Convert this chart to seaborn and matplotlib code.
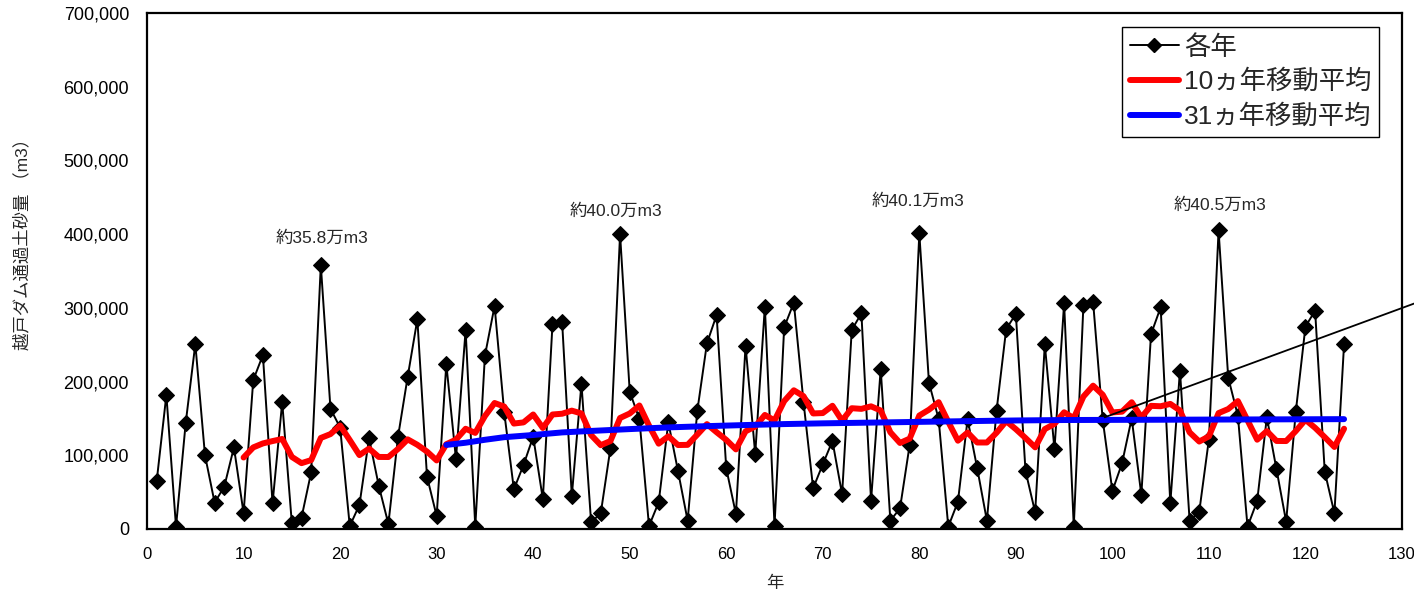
import numpy as np
import pandas as pd
import seaborn as sns
import matplotlib.pyplot as plt
from matplotlib.ticker import FuncFormatter
from matplotlib.lines import Line2D

# 各年の越戸ダム通過土砂量 (m3), 年 1..124
years = list(range(1, 125))
volume = [
    65100, 181800, 3000, 143400, 251000, 100000, 35700, 57400, 110800, 21300,
    202000, 236000, 34800, 171900, 7700, 15400, 76900, 358000, 163200, 137500,
    4000, 32600, 123000, 58800, 6800, 125200, 206600, 284400, 71000, 17600,
    223800, 95000, 270000, 3000, 235100, 302500, 158300, 53800, 86800, 125200,
    40700, 277700, 280400, 44800, 197100, 9000, 21300, 109400, 400000, 186300,
    149200, 4000, 36200, 144700, 78700, 11300, 160100, 251900, 290300, 82300,
    20300, 248700, 101700, 301600, 4000, 273600, 307000, 172700, 55200, 87700,
    119400, 47100, 270000, 292600, 38400, 217100, 11300, 28000, 114000, 401000,
    198500, 149200, 3100, 37000, 148800, 82300, 11300, 160500, 271300, 291700,
    78700, 22600, 250500, 108100, 306100, 3100, 303900, 308400, 147900, 51600,
    89100, 150100, 46100, 264100, 300700, 34800, 214800, 11300, 23500, 121700,
    405000, 205300, 153700, 3100, 38000, 151500, 81000, 9900, 159200, 274500,
    296200, 77800, 21300, 250500,
]

# 31ヵ年移動平均
ma31_years = [31, 33, 35, 37, 40, 43, 46, 50, 54, 58, 62, 66, 70, 75, 80,
              85, 90, 95, 100, 110, 124]
ma31_vals = [114000, 117000, 121000, 124500, 127500, 131000, 133000, 135500,
             137800, 139500, 141000, 142300, 143300, 144300, 145300, 146300,
             147200, 147800, 148000, 148400, 149000]

labels = ['各年', '10ヵ年移動平均', '31ヵ年移動平均']
notes = ['約35.8万m3', '約40.0万m3', '約40.1万m3', '約40.5万m3']
note_x = [18.1, 48.6, 79.9, 111.1]
note_y = [394800, 431400, 445000, 439500]

df = pd.DataFrame({'year': years, 'volume': volume})
df['ma10'] = df['volume'].rolling(10).mean()
df31 = pd.DataFrame({'year': ma31_years, 'ma31': ma31_vals})

sns.set_theme(style='white')
plt.rcParams['font.family'] = ['Liberation Sans', 'Noto Sans CJK JP']
jp = ['Liberation Sans', 'Noto Sans CJK JP']

fig = plt.figure(figsize=(14.14, 5.93), dpi=100)
ax = fig.add_axes([0.104, 0.108, 0.8875, 0.870])

sns.lineplot(data=df, x='year', y='volume', ax=ax, color='black', linewidth=1.4,
             marker='D', markersize=8, markeredgecolor='black', zorder=2)
sns.lineplot(data=df.dropna(subset=['ma10']), x='year', y='ma10', ax=ax,
             color='#ff0000', linewidth=4.3, zorder=3)
sns.lineplot(data=df31, x='year', y='ma31', ax=ax,
             color='#0000ff', linewidth=4.3, zorder=4)

# stray pointer line running off the right edge
ax.plot([99.2, 131.5], [151500, 307000], color='black', linewidth=1.3,
        clip_on=False, zorder=5)

for t, x, y in zip(notes, note_x, note_y):
    ax.text(x, y, t, ha='center', va='center', fontsize=12.5, family=jp)

ax.set_xlim(0, 130)
ax.set_ylim(0, 700000)
ax.set_xticks(range(0, 131, 10))
ax.set_yticks(range(0, 700001, 100000))
ax.yaxis.set_major_formatter(FuncFormatter(lambda v, p: f'{v:,.0f}'))
ax.tick_params(direction='in', length=5, width=1, colors='black')
ax.tick_params(axis='y', labelsize=13, pad=13)
ax.tick_params(axis='x', labelsize=12, pad=13)
ax.set_xlabel('年', fontsize=12.5, family=jp, labelpad=10)
ax.set_ylabel('越戸ダム通過土砂量 （m3）', fontsize=12.5, family=jp)
ax.yaxis.set_label_coords(-0.093, 0.56)
for s in ax.spines.values():
    s.set_color('black')
    s.set_linewidth(1.6)

handles = [
    Line2D([], [], color='black', linewidth=1.4, marker='D', markersize=7),
    Line2D([], [], color='#ff0000', linewidth=4.3),
    Line2D([], [], color='#0000ff', linewidth=4.3),
]
leg = ax.legend(handles, labels, loc='upper right', bbox_to_anchor=(0.982, 0.973),
                borderaxespad=0, fancybox=False, framealpha=1, edgecolor='black',
                handlelength=1.85, handletextpad=0.2, labelspacing=0.38,
                borderpad=0.3, prop={'family': jp, 'size': 19})
leg.get_frame().set_linewidth(1.0)

fig.savefig('out.png', dpi=100)
